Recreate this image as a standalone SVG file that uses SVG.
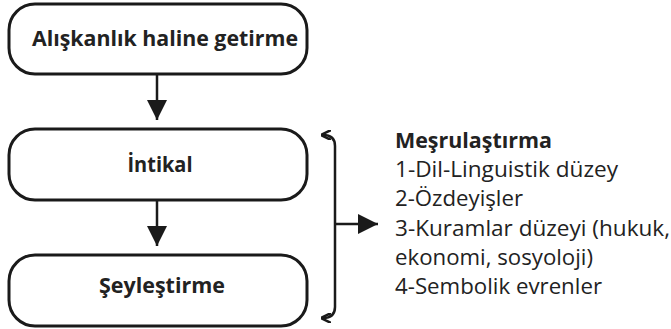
<svg xmlns="http://www.w3.org/2000/svg" width="671" height="329" viewBox="0 0 671 329">
<defs>
<style>
.box{fill:#fff;stroke:#1a1a1a;stroke-width:3}
.lbl{font-family:"Open Sans","Noto Sans","Liberation Sans",sans-serif;font-weight:bold;font-size:22px;fill:#222;text-anchor:middle}
.lst{font-family:"Open Sans","Noto Sans","Liberation Sans",sans-serif;font-size:22px;fill:#222}
.ln{fill:none;stroke:#1a1a1a;stroke-width:2.5}
</style>
<marker id="ah" viewBox="0 0 10 10" refX="10" refY="5" markerWidth="8" markerHeight="8" markerUnits="strokeWidth" orient="auto"><path d="M0,0 L10,5 L0,10 Z" fill="#1a1a1a"/></marker>
<marker id="sh" viewBox="0 0 10 10" refX="8" refY="5" markerWidth="4" markerHeight="4" markerUnits="strokeWidth" orient="auto"><path d="M0,0 L10,5 L0,10" fill="none" stroke="#1a1a1a" stroke-width="2.5"/></marker>
</defs>
<g id="node-aliskanlik">
<rect class="box" x="9" y="4" width="298" height="70" rx="26"/>
<text class="lbl" x="165" y="46" textLength="266" lengthAdjust="spacingAndGlyphs">Alışkanlık haline getirme</text>
</g>
<g id="node-intikal">
<rect class="box" x="9" y="129" width="298" height="71" rx="26"/>
<text class="lbl" x="160" y="172" textLength="65" lengthAdjust="spacingAndGlyphs">İntikal</text>
</g>
<g id="node-seylestirme">
<rect class="box" x="9" y="255" width="298" height="71" rx="26"/>
<text class="lbl" x="162" y="293" textLength="126" lengthAdjust="spacingAndGlyphs">Şeyleştirme</text>
</g>
<g id="node-mesrulastirma">
<text class="lst" x="395" y="148" font-weight="bold" textLength="157" lengthAdjust="spacingAndGlyphs">Meşrulaştırma</text>
<text class="lst" x="395" y="177" textLength="223" lengthAdjust="spacingAndGlyphs">1-Dil-Linguistik düzey</text>
<text class="lst" x="395" y="206" textLength="128" lengthAdjust="spacingAndGlyphs">2-Özdeyişler</text>
<text class="lst" x="395" y="236" textLength="275" lengthAdjust="spacingAndGlyphs">3-Kuramlar düzeyi (hukuk,</text>
<text class="lst" x="395" y="265" textLength="198" lengthAdjust="spacingAndGlyphs">ekonomi, sosyoloji)</text>
<text class="lst" x="395" y="294" textLength="207" lengthAdjust="spacingAndGlyphs">4-Sembolik evrenler</text>
</g>
<g id="connectors">
<path class="ln" d="M157,74 L157,120" marker-end="url(#ah)"/>
<path class="ln" d="M157,200 L157,246" marker-end="url(#ah)"/>
<path class="ln" d="M335,222 L335,146 Q335,135 323,135" marker-end="url(#sh)"/>
<path class="ln" d="M335,222 L335,307 Q335,318 323,318" marker-end="url(#sh)"/>
<path class="ln" d="M335,224 L378,224" marker-end="url(#ah)"/>
</g>
</svg>
